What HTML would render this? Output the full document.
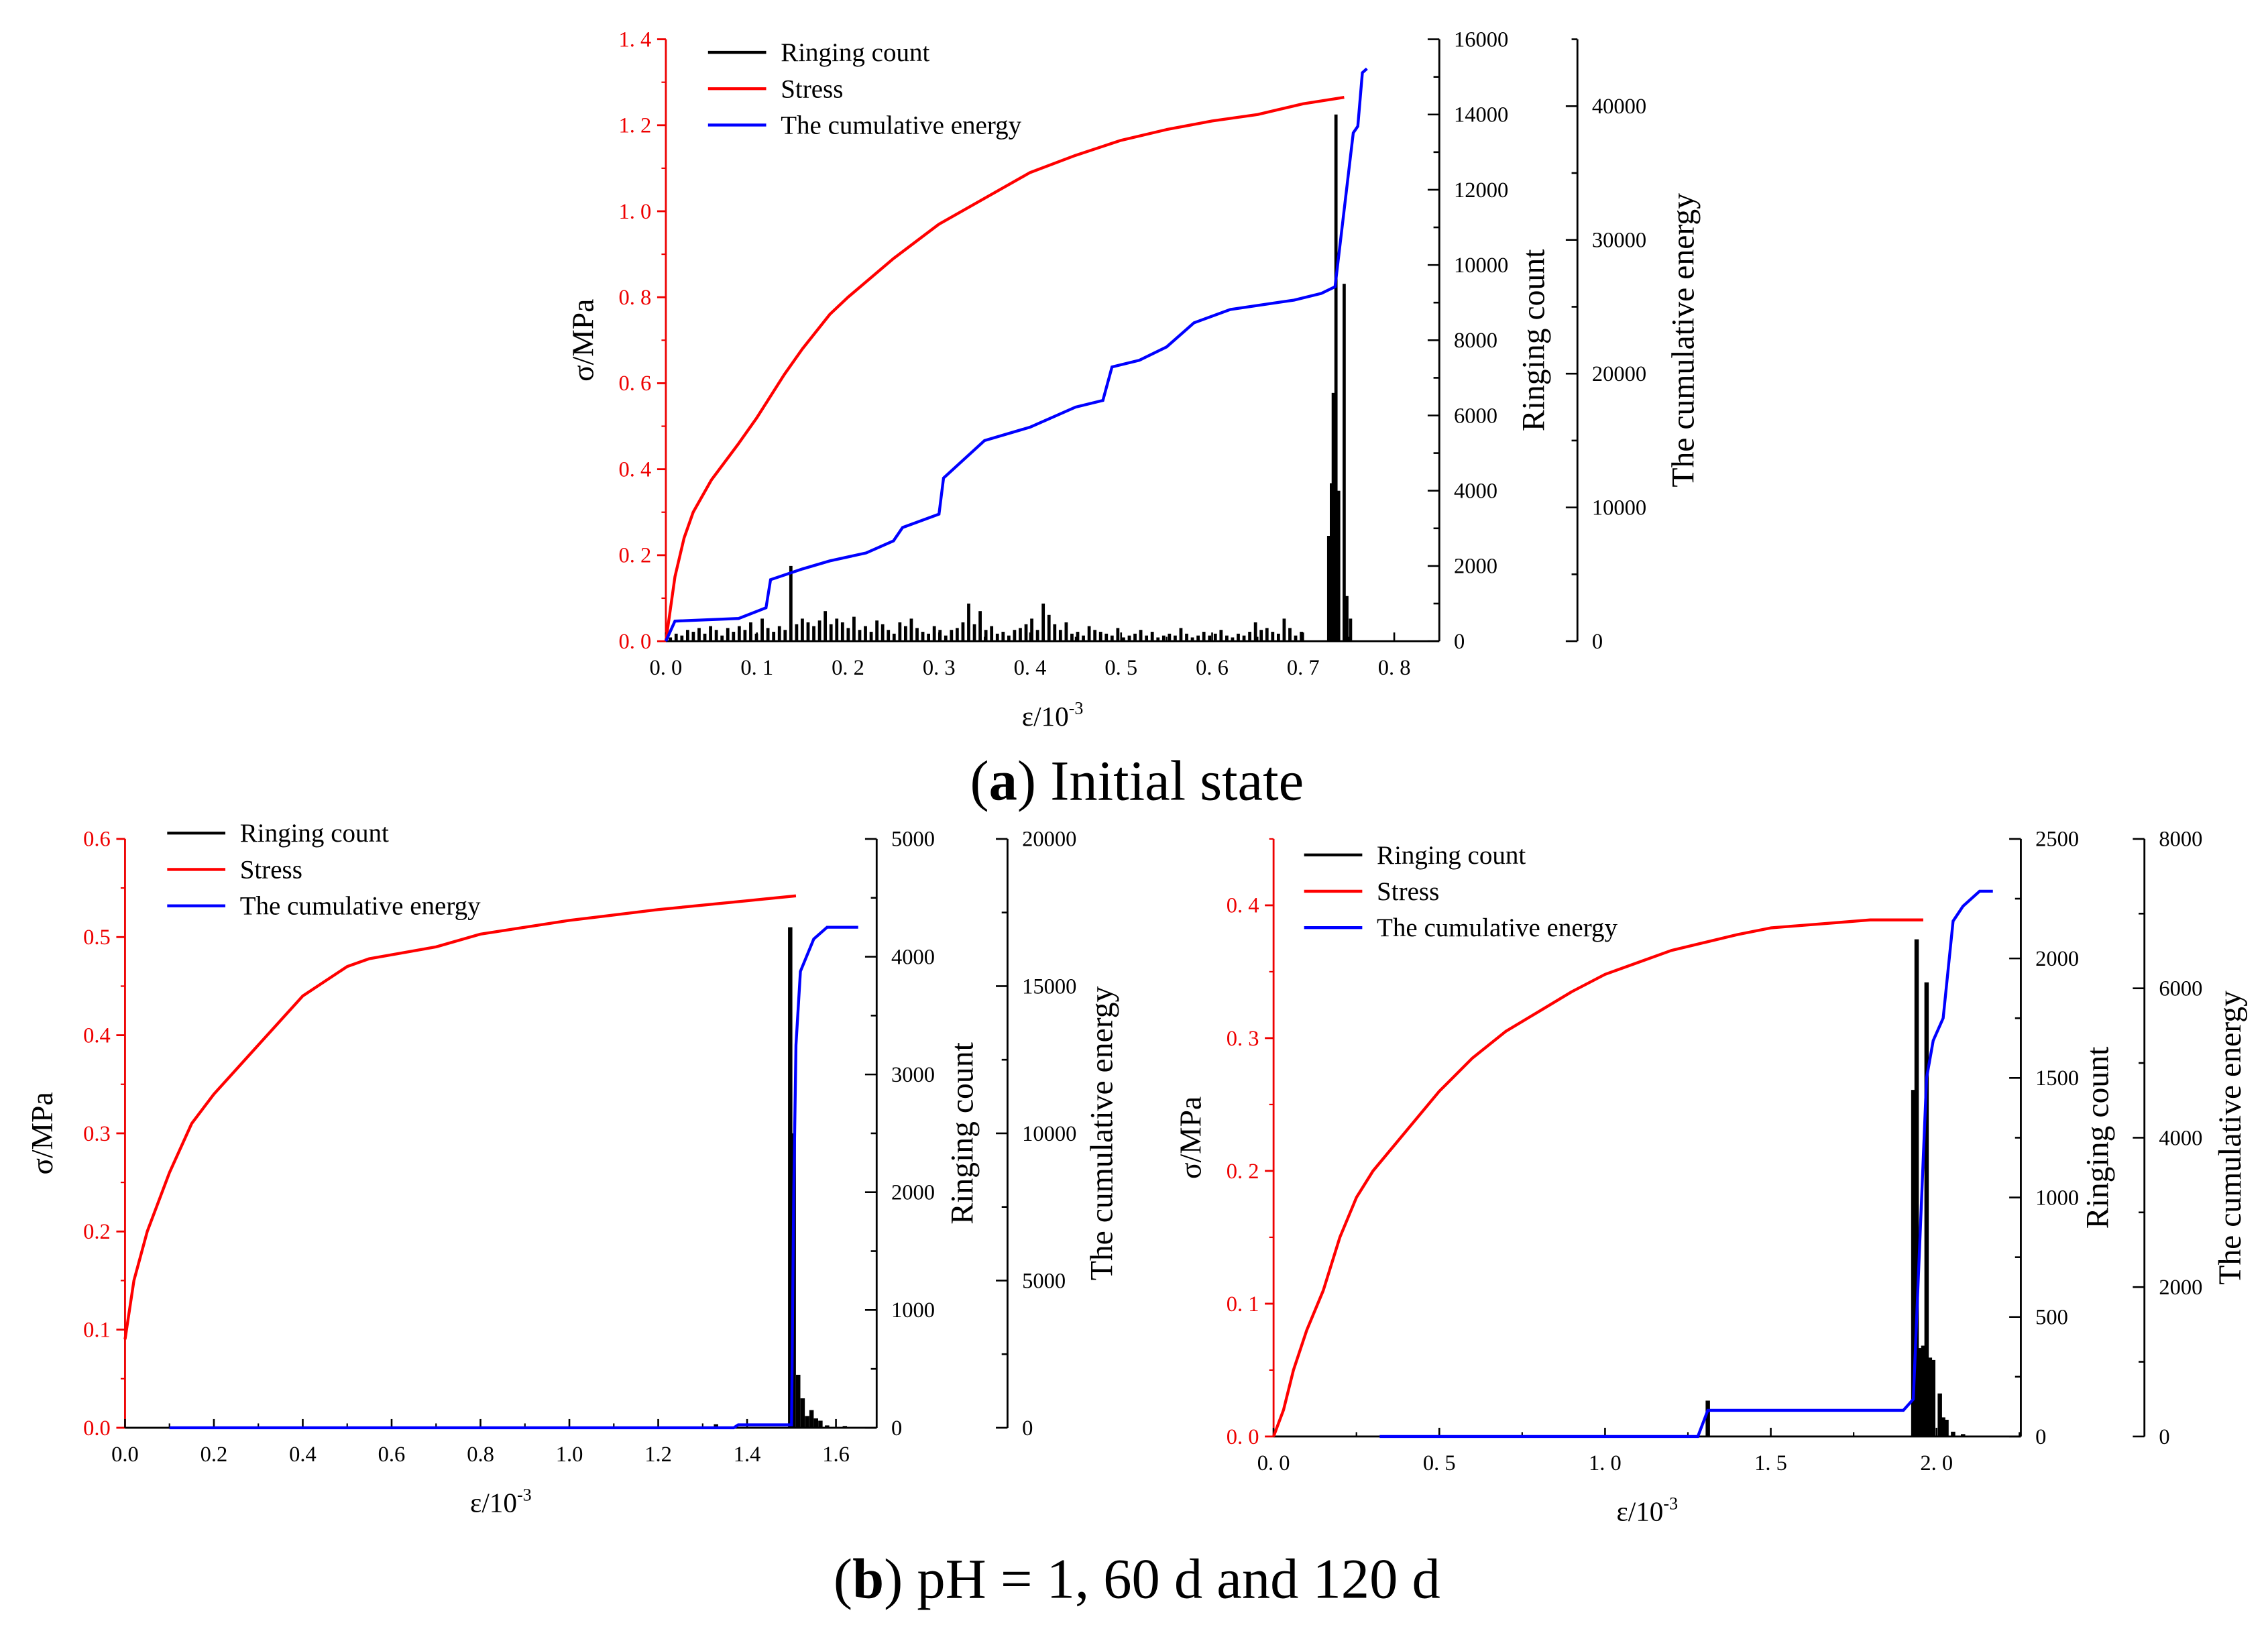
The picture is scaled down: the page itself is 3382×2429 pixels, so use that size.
<!DOCTYPE html>
<html><head><meta charset="utf-8">
<style>
html,body{margin:0;padding:0;background:#fff;}
svg{display:block;}
text{font-family:"Liberation Serif","Noto Serif CJK SC",serif;}
</style></head>
<body>
<svg id="fig" width="3382" height="2429" viewBox="0 0 1560 1120.4" xmlns="http://www.w3.org/2000/svg">
<text x="782" y="550" text-anchor="middle" font-size="39">(<tspan font-weight="bold">a</tspan>) Initial state</text>
<text x="782" y="1099" text-anchor="middle" font-size="39">(<tspan font-weight="bold">b</tspan>) pH = 1, 60 d and 120 d</text>
</svg>
<script>
// ---- Chart A data ----
const aStressX=[0,0.01,0.02,0.03,0.05,0.08,0.1,0.13,0.15,0.18,0.2,0.25,0.3,0.35,0.4,0.45,0.5,0.55,0.6,0.65,0.7,0.745];
const aStressY=[0,0.15,0.24,0.3,0.375,0.46,0.52,0.62,0.68,0.76,0.8,0.89,0.97,1.03,1.09,1.13,1.165,1.19,1.21,1.225,1.25,1.265];
const aEnergyX=[0,0.01,0.08,0.11,0.115,0.15,0.18,0.22,0.25,0.26,0.3,0.305,0.35,0.4,0.45,0.48,0.49,0.52,0.55,0.58,0.62,0.69,0.72,0.735,0.755,0.76,0.765,0.77];
const aEnergyY=[0,1500,1700,2500,4600,5400,6000,6600,7500,8500,9500,12200,15000,16000,17500,18000,20500,21000,22000,23800,24800,25500,26000,26500,38000,38500,42500,42800];
const aRingStepCounts=[100,200,150,300,250,350,200,400,300,150,350,250,400,300,500,200,600,350,250,400,
 300,2000,450,600,500,400,550,800,450,600,500,350,650,300,400,250,550,450,300,200,
 500,400,600,350,250,200,400,300,150,300,350,500,1000,450,800,300,400,200,250,150,
 300,350,450,600,300,1000,700,450,300,500,200,250,150,400,300,250,200,150,350,100,
 150,200,300,150,250,100,150,200,150,350,200,100,150,250,150,200,300,150,100,200,
 150,250,500,300,350,250,200,600,350,150,250];
const aSpikeX=[0.728,0.731,0.733,0.736,0.739,0.745,0.748,0.752];
const aSpikeY=[2800,4200,6600,14000,4000,9500,1200,600];
// ---- Chart B-left data ----
const bStressX=[0,0.02,0.05,0.1,0.15,0.2,0.3,0.4,0.5,0.55,0.7,0.8,1.0,1.2,1.4,1.51];
const bStressY=[0.09,0.15,0.2,0.26,0.31,0.34,0.39,0.44,0.47,0.478,0.49,0.503,0.517,0.528,0.537,0.542];
const bEnergyX=[0.1,1.37,1.38,1.5,1.505,1.51,1.52,1.55,1.58,1.65];
const bEnergyY=[0,0,100,100,8000,13000,15500,16600,17000,17000];
const bRingX=[1.33,1.497,1.505,1.515,1.525,1.535,1.545,1.555,1.565,1.58,1.62];
const bRingY=[30,4250,2500,450,250,100,150,80,60,20,15];
// ---- Chart B-right data ----
const cStressX=[0,0.03,0.06,0.1,0.15,0.2,0.25,0.3,0.4,0.5,0.6,0.7,0.8,0.9,1.0,1.1,1.2,1.3,1.4,1.5,1.6,1.7,1.8,1.96];
const cStressY=[0,0.02,0.05,0.08,0.11,0.15,0.18,0.2,0.23,0.26,0.285,0.305,0.32,0.335,0.348,0.357,0.366,0.372,0.378,0.383,0.385,0.387,0.389,0.389];
const cEnergyX=[0.32,1.28,1.31,1.9,1.93,1.97,1.99,2.02,2.05,2.08,2.13,2.17];
const cEnergyY=[0,0,350,350,500,4800,5300,5600,6900,7100,7300,7300];
const cRingX=[1.31,1.93,1.94,1.95,1.96,1.97,1.98,1.99,2.01,2.02,2.03,2.05,2.08];
const cRingY=[150,1450,2080,370,380,1900,330,320,180,80,70,20,10];
// tick labels
const aXTicks=["0. 0","0. 1","0. 2","0. 3","0. 4","0. 5","0. 6","0. 7","0. 8"];
const aYTicks=["0. 0","0. 2","0. 4","0. 6","0. 8","1. 0","1. 2","1. 4"];
const bXTicks=["0.0","0.2","0.4","0.6","0.8","1.0","1.2","1.4","1.6"];
const bYTicks=["0.0","0.1","0.2","0.3","0.4","0.5","0.6"];
const cXTicks=["0. 0","0. 5","1. 0","1. 5","2. 0"];
const cYTicks=["0. 0","0. 1","0. 2","0. 3","0. 4"];

const NS="http://www.w3.org/2000/svg";
const svg=document.getElementById('fig');
function mk(tag,attrs,parent){const e=document.createElementNS(NS,tag);for(const k in attrs)e.setAttribute(k,attrs[k]);(parent||svg).appendChild(e);return e;}
function txt(s,attrs,parent){const e=mk('text',attrs,parent);e.textContent=s;return e;}

function chart(c){
  const g=mk('g',{});
  
  
  const X=v=>c.x0+(v-c.xmin)/(c.xmax-c.xmin)*(c.x1-c.x0);
  const Y=v=>c.y0-(v/c.ymax)*(c.y0-c.yt);
  const YR=v=>c.y0-(v/c.rmax)*(c.y0-c.yt);
  const YE=v=>c.y0-(v/c.emax)*(c.y0-c.yt);
  const la=mk('line',{x1:c.x0,y1:c.y0,x2:c.x0,y2:c.yt,stroke:'#e00',"stroke-width":1.3},g);
  
  c.yTicks.forEach((t,i)=>{const v=i*c.ystep,y=Y(v);
    mk('line',{x1:c.x0-6,y1:y,x2:c.x0,y2:y,stroke:'#e00',"stroke-width":1.3},g);
    if(i<c.yTicks.length-1||c.yMinorTop) mk('line',{x1:c.x0-3,y1:Y(v+c.ystep/2),x2:c.x0,y2:Y(v+c.ystep/2),stroke:'#e00',"stroke-width":1},g);
    const l=txt(t,{x:c.x0-10,y:y+5,"text-anchor":"end","font-size":15,fill:'#e00'},g);
    });
  const xa=mk('line',{x1:c.x0,y1:c.y0,x2:c.xr,y2:c.y0,stroke:'#000',"stroke-width":1.3},g);
  
  c.xTicks.forEach((t,i)=>{const v=c.xmin+i*c.xstep,x=X(v);
    mk('line',{x1:x,y1:c.y0,x2:x,y2:c.y0-6,stroke:'#000',"stroke-width":1.2},g);
    const xm=X(v+c.xstep/2); if(xm<c.xr) mk('line',{x1:xm,y1:c.y0,x2:xm,y2:c.y0-3,stroke:'#000',"stroke-width":1},g);
    const l=txt(t,{x:x,y:c.y0+23,"text-anchor":"middle","font-size":15},g);
    });
  const ra=mk('line',{x1:c.xr,y1:c.y0,x2:c.xr,y2:c.yt,stroke:'#000',"stroke-width":1.3},g);
  
  for(let v=0;v<=c.rmax+1e-9;v+=c.rstep/2){const y=YR(v),maj=Math.abs(v/c.rstep-Math.round(v/c.rstep))<1e-6;
    mk('line',{x1:c.xr,y1:y,x2:c.xr-(maj?8:4),y2:y,stroke:'#000',"stroke-width":1.2},g);
    if(maj){const l=txt(String(Math.round(v)),{x:c.xr+10,y:y+5,"font-size":15},g);
      }}
  const ea=mk('line',{x1:c.xe,y1:c.y0,x2:c.xe,y2:c.yt,stroke:'#000',"stroke-width":1.3},g);
  
  for(let v=0;v<=c.emax+1e-9;v+=c.estep/2){const y=YE(v),maj=Math.abs(v/c.estep-Math.round(v/c.estep))<1e-6;
    mk('line',{x1:c.xe,y1:y,x2:c.xe-(maj?8:4),y2:y,stroke:'#000',"stroke-width":1.2},g);
    if(maj){const l=txt(String(Math.round(v)),{x:c.xe+10,y:y+5,"font-size":15},g);
      }}
  let t=txt('σ/MPa',{transform:`translate(${c.x0-50},${(c.y0+c.yt)/2}) rotate(-90)`,"text-anchor":"middle","font-size":21},g);
  
  t=txt('Ringing count',{transform:`translate(${c.xr+c.rto},${(c.y0+c.yt)/2}) rotate(-90)`,"text-anchor":"middle","font-size":22},g);
  
  t=txt('The cumulative energy',{transform:`translate(${c.xe+c.eto},${(c.y0+c.yt)/2}) rotate(-90)`,"text-anchor":"middle","font-size":22},g);
  
  t=mk('text',{x:(c.x0+c.xr)/2,y:c.y0+58,"text-anchor":"middle","font-size":19},g);
  t.innerHTML='ε/10<tspan dy="-8" font-size="12">-3</tspan>';
  
  c.ringX.forEach((xv,i)=>{const h=c.ringY[i];const x=X(xv);const y=YR(h);
    const b=mk('rect',{x:x-c.bw/2,y:y,width:c.bw,height:c.y0-y,fill:'#000'},g);
    });
  let p=mk('polyline',{points:c.sX.map((v,i)=>X(v)+','+Y(c.sY[i])).join(' '),fill:'none',stroke:'#f00',"stroke-width":2,"stroke-linejoin":"round"},g);
  
  p=mk('polyline',{points:c.eX.map((v,i)=>X(v)+','+YE(c.eY[i])).join(' '),fill:'none',stroke:'#00f',"stroke-width":2},g);
  
  const lg=mk('g',{},g);
  [['Ringing count','#000'],['Stress','#f00'],['The cumulative energy','#00f']].forEach((e,i)=>{
    const y=c.ly+i*25;
    mk('line',{x1:c.lx,y1:y,x2:c.lx+40,y2:y,stroke:e[1],"stroke-width":2},lg);
    const l=txt(e[0],{x:c.lx+50,y:y+6,"font-size":18},lg);
    });
}
const aRingX=[],aRingY=[];
aRingStepCounts.forEach((v,i)=>{aRingX.push(0.005+i*0.0063);aRingY.push(v);});
aSpikeX.forEach((v,i)=>{aRingX.push(v);aRingY.push(aSpikeY[i]);});

chart({name:'chart-initial-state',x0:458,xr:990,xe:1085,y0:441,yt:27,xmin:0,xmax:0.8,x1:959,xstep:0.1,xTicks:aXTicks,
  ymax:1.4,ystep:0.2,yTicks:aYTicks,rmax:16000,rstep:2000,emax:45000,estep:10000,rto:72,eto:80,
  sX:aStressX,sY:aStressY,eX:aEnergyX,eY:aEnergyY,ringX:aRingX,ringY:aRingY,bw:2.2,lx:487,ly:36});
chart({name:'chart-ph1-60d',x0:86,xr:603,xe:693,y0:982,yt:577,xmin:0,xmax:1.6,x1:575,xstep:0.2,xTicks:bXTicks,
  ymax:0.6,ystep:0.1,yTicks:bYTicks,rmax:5000,rstep:1000,emax:20000,estep:5000,rto:66,eto:72,
  sX:bStressX,sY:bStressY,eX:bEnergyX,eY:bEnergyY,ringX:bRingX,ringY:bRingY,bw:3,lx:115,ly:573});
chart({name:'chart-ph1-120d',x0:876,xr:1390,xe:1475,y0:988,yt:577,xmin:0,xmax:2.0,x1:1332,xstep:0.5,xTicks:cXTicks,
  ymax:0.45,ystep:0.1,yTicks:cYTicks,yMinorTop:true,rmax:2500,rstep:500,emax:8000,estep:2000,rto:60,eto:66,
  sX:cStressX,sY:cStressY,eX:cEnergyX,eY:cEnergyY,ringX:cRingX,ringY:cRingY,bw:3,lx:897,ly:588});
</script>
</body></html>
